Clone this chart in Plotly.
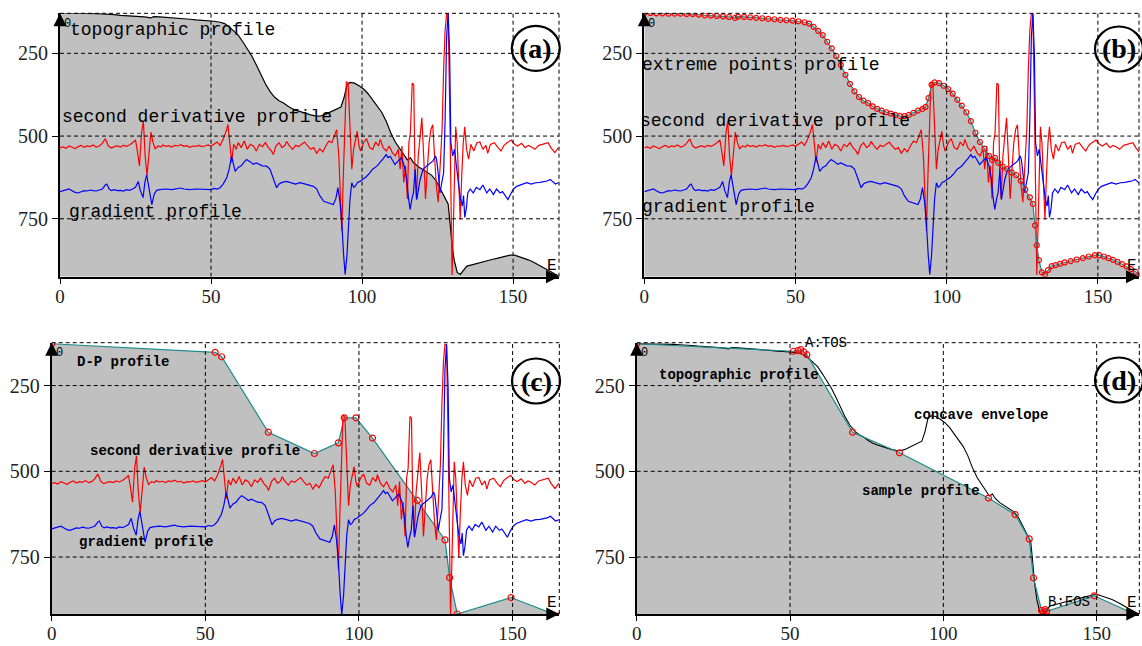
import plotly.graph_objects as go

# ---------------- data ----------------
topo_x = [0, 2, 4, 6, 8, 10, 12, 14, 16, 18, 20, 22, 24, 26, 28, 30, 31, 33, 35, 37, 39, 41, 43, 45, 47, 49,
          51, 53, 54.5, 56, 57.5, 59, 60.5, 62, 63.5, 65, 66.5, 68, 69.5, 71, 72.5, 74, 75.5, 77, 78.5, 80,
          81.5, 83, 84.5, 86, 87.5, 89, 90.5, 92, 93, 94, 95, 96, 97.5, 99, 100.5, 102, 103.5, 105, 106.5,
          108, 109.5, 111, 112.5, 114, 115, 116, 117, 118.5, 120, 121.5, 123, 124.5, 126, 127.5, 128.5,
          129.2, 129.8, 130.5, 131.5, 132.5, 133.5, 134.7, 136, 137.5, 139, 141, 143, 145, 147, 149, 150.5,
          152, 153.5, 155, 156.5, 158, 159.5, 161, 162.5, 164, 165]
topo_y = [128, 128, 129, 129, 130, 130, 130, 131, 131, 133, 135, 136, 137, 138, 140, 143, 139, 140, 141, 143,
          144, 146, 147, 149, 150, 151, 153, 156, 160, 170, 182, 195, 215, 235, 258, 285, 315, 342, 365, 382,
          393, 400, 410, 418, 423, 428, 432, 436, 439, 440, 436, 430, 423, 418, 412, 385, 345, 338, 340, 348,
          358, 372, 390, 408, 428, 455, 490, 518, 538, 560, 572, 566, 580, 592, 600, 610, 618, 635, 662, 685,
          705, 770, 830, 875, 912, 918, 905, 893, 890, 886, 882, 878, 873, 869, 864, 860, 860, 864, 869, 874,
          880, 887, 894, 902, 910, 918, 922]

d2_x = [0, 1, 2, 3, 4, 5, 6, 7, 8, 9, 10, 11, 12, 13, 14, 15, 16, 17, 18, 19, 20, 21, 22, 23, 24, 25,
        25.6, 26.3, 27, 27.6, 28.2, 28.8, 29.4, 30.1, 30.8, 31.5, 32.5, 33.5, 34, 35, 36, 37, 38, 39, 40,
        41, 42, 43, 44, 45, 46, 47, 48, 49, 50, 51, 52, 53, 54, 55, 55.6, 56.2, 56.8, 57.5, 58.3, 59, 60,
        61, 62, 63, 64, 65, 66, 67, 68, 69, 70, 70.6, 71.5, 72.5, 73.5, 74.5, 75, 76, 77, 78, 79, 80, 81,
        82, 83, 84, 85, 86, 87, 88, 89, 90, 90.8, 91.6, 92.3, 93, 93.3, 93.8, 94.4, 94.8, 95.4, 96, 96.6,
        97.2, 98, 98.4, 99, 99.5, 100.5, 101.5, 102.5, 103.5, 104.5, 105.5, 106, 107, 108, 109, 110, 111,
        112, 112.6, 113.2, 113.8, 114.4, 115, 115.5, 116, 116.6, 117.1, 117.5, 118, 118.6, 119.2, 119.8,
        120.4, 121, 121.6, 122.2, 122.8, 123.4, 124, 124.6, 125.2, 125.8, 126.5, 127, 127.5, 128, 128.5,
        129, 129.4, 129.8, 130.2, 130.6, 131, 131.5, 132, 132.5, 133, 133.5, 134, 134.6, 135.3, 136, 137,
        138, 139, 140, 141, 141.6, 142.5, 143.8, 145, 146, 147, 148, 149.4, 150.5, 151.5, 152.8, 154, 155,
        156, 157.2, 158.5, 160, 161.6, 162.5, 163.8, 165]
d2_y = [535, 533, 537, 530, 534, 538, 532, 528, 534, 530, 532, 527, 533, 530, 522, 508, 530, 536, 532, 530,
        533, 528, 531, 527, 520, 512, 545, 590, 490, 455, 560, 620, 560, 488, 520, 538, 530, 533, 527, 531,
        529, 533, 528, 530, 526, 531, 529, 534, 530, 531, 528, 532, 530, 527, 531, 525, 518, 528, 510, 485,
        465, 520, 580, 525, 540, 520, 535, 515, 540, 525, 530, 545, 525, 532, 520, 535, 545, 556, 530, 520,
        535, 528, 516, 530, 540, 528, 532, 525, 518, 530, 540, 535, 552, 538, 548, 530, 515, 520, 500, 481,
        560, 700, 787, 620, 400, 336, 340, 480, 600, 540, 500, 486, 530, 545, 520, 508, 535, 540, 518, 530,
        510, 535, 545, 530, 550, 560, 540, 600, 530, 640, 590, 690, 520, 490, 340, 345, 600, 690, 560, 500,
        445, 560, 690, 600, 520, 480, 466, 560, 650, 700, 600, 480, 300, 180, 130, 130, 400, 700, 920, 780,
        560, 472, 520, 650, 752, 620, 520, 472, 540, 570, 525, 545, 520, 518, 540, 528, 552, 525, 520, 535,
        545, 528, 520, 512, 525, 530, 522, 535, 528, 532, 540, 528, 525, 520, 535, 550, 535]

grad_x = [0, 1, 2, 3, 4, 5, 6, 7, 8, 9, 10, 11, 12, 13, 14, 15, 15.5, 16.3, 17, 18, 19, 20, 21, 22, 23, 24,
          25, 25.9, 26.6, 27.5, 28.1, 28.7, 29.4, 30.4, 31.2, 32, 33, 35, 37, 39, 40, 41, 43, 45, 47, 49, 50,
          51, 52, 53, 54, 55.2, 56, 56.8, 57.4, 58, 59, 60, 61, 61.8, 63, 64, 65, 66, 67, 68.4, 69.5, 70.5,
          71.7, 72.5, 73.5, 75, 76.5, 78, 79.5, 81, 82.5, 83.9, 85, 86, 87.3, 88.5, 89.5, 90.5, 91.3, 92,
          92.7, 93.3, 93.9, 94.4, 95, 95.5, 96, 96.6, 97.2, 97.7, 98.5, 99.3, 100.3, 101.5, 102.5, 103.5,
          104.9, 106, 107, 108, 108.6, 109.3, 110.2, 110.9, 112, 113, 114, 114.8, 115.4, 115.9, 116.5, 117,
          117.6, 118.1, 118.7, 119.2, 120.2, 121.4, 122.5, 123.5, 124.3, 124.7, 125.3, 125.8, 126.4, 127,
          127.5, 128, 128.5, 129, 129.4, 130, 130.6, 131.3, 132, 132.6, 133.2, 133.6, 134, 134.5, 135, 135.8,
          136.8, 137.8, 139, 140, 141.3, 142.3, 143.5, 144.5, 145.7, 146.5, 147.3, 148.3, 149.2, 150.2,
          151.2, 152.5, 153.5, 154.5, 156, 157.5, 159, 160.5, 161.5, 162.3, 163.2, 164, 165]
grad_y = [668, 665, 662, 660, 665, 670, 672, 668, 665, 666, 663, 665, 666, 663, 660, 648, 645, 660, 665, 662,
          665, 664, 666, 662, 664, 660, 655, 637, 665, 686, 640, 617, 650, 707, 675, 664, 662, 660, 662, 660,
          657, 660, 662, 660, 661, 660, 662, 658, 660, 656, 645, 626, 600, 561, 590, 607, 595, 590, 578, 571,
          578, 585, 581, 586, 590, 591, 600, 625, 656, 645, 640, 637, 642, 645, 641, 645, 650, 652, 660, 680,
          697, 700, 703, 707, 690, 656, 700, 763, 860, 918, 860, 763, 690, 641, 655, 652, 640, 637, 630, 622,
          612, 600, 591, 580, 568, 556, 565, 561, 575, 586, 575, 566, 590, 632, 690, 722, 690, 672, 600, 692,
          660, 632, 600, 591, 585, 575, 560, 571, 620, 672, 640, 611, 450, 200, 130, 250, 520, 560, 540, 600,
          650, 690, 712, 680, 746, 720, 672, 660, 672, 655, 662, 648, 672, 660, 677, 660, 672, 668, 680, 692,
          675, 660, 652, 648, 645, 641, 645, 641, 640, 638, 635, 631, 640, 645, 641]

# Douglas-Peucker simplified profile (panel c)
dp_x = [0, 53.2, 55.3, 70.5, 85.5, 93.3, 95.2, 99, 104.4, 119, 128, 129.5, 132, 149.5, 165]
dp_y = [128, 153, 166, 386, 448, 417, 344, 344, 403, 585, 700, 810, 916, 868, 922]

# sample profile (panel d)
sample_x = [0, 51.1, 52.6, 53.5, 54.5, 55.5, 70.4, 85.7, 114.7, 123.4, 128, 129.4, 132, 132.6, 133.2,
            133.7, 149.2, 164]
sample_y = [128, 150, 148, 145, 152, 160, 386, 446, 578, 626, 697, 811, 905, 912, 903, 908, 863, 923]

x_ticks = [0, 50, 100, 150]
y_ticks = [250, 500, 750]

# ---------------- styling ----------------
W, H = 1142, 646
GRAY = "#c0c0c0"
TEAL = "#1a8c8c"
RED = "#ff0000"
BLUE = "#0000ff"
MONO = "Liberation Mono"
SERIF = "Liberation Serif"
DASH = "4px,3px"

# panel geometry in pixels: (x0, x1, y_top, y_bottom, xmax, ytop_val, ybot_val)
panels = {
    "a": (60.0, 559.0, 13.3, 276.7, 165.2, 129, 925),
    "b": (644.3, 1139.0, 13.3, 276.7, 163.6, 129, 925),
    "c": (51.7, 559.3, 342.7, 614.0, 165.2, 125, 916),
    "d": (636.7, 1139.3, 342.7, 614.0, 163.9, 125, 916),
}
keys = ["a", "b", "c", "d"]

fig = go.Figure()
layout = dict(width=W, height=H, margin=dict(l=0, r=0, t=0, b=0, autoexpand=False),
              paper_bgcolor="white", plot_bgcolor="white", showlegend=False)
shapes = []
annotations = []

for i, k in enumerate(keys):
    x0, x1, yt, yb, xmax, ytv, ybv = panels[k]
    sfx = "" if i == 0 else str(i + 1)
    layout["xaxis" + sfx] = dict(
        domain=[x0 / W, x1 / W], range=[0, xmax], anchor="y" + sfx, automargin=False,
        tickvals=x_ticks, ticks="outside", ticklen=5, tickwidth=1, tickcolor="black",
        ticklabelstandoff=-4,
        showline=True, linecolor="black", linewidth=2, showgrid=False, zeroline=False,
        tickfont=dict(family=SERIF, size=19, color="#222"), layer="above traces")
    layout["yaxis" + sfx] = dict(
        domain=[1 - yb / H, 1 - yt / H], range=[ybv, ytv], anchor="x" + sfx, automargin=False,
        tickvals=y_ticks, ticks="outside", ticklen=6, tickwidth=1, tickcolor="black",
        showline=True, linecolor="black", linewidth=2, showgrid=False, zeroline=False,
        tickfont=dict(family=SERIF, size=20, color="#222"), layer="above traces")
    xr, yr = "x" + sfx, "y" + sfx
    # dashed grid drawn on top of the fill
    for xv in x_ticks[1:]:
        shapes.append(dict(type="line", xref=xr, yref=yr + " domain", x0=xv, x1=xv, y0=0, y1=1,
                           line=dict(color="black", width=1, dash=DASH), layer="above"))
    shapes.append(dict(type="line", xref=xr + " domain", yref=yr + " domain", x0=1, x1=1, y0=0, y1=1,
                       line=dict(color="black", width=1, dash=DASH), layer="above"))
    for yv in y_ticks:
        shapes.append(dict(type="line", xref=xr + " domain", yref=yr, x0=0, x1=1, y0=yv, y1=yv,
                           line=dict(color="black", width=1, dash=DASH), layer="above"))
    shapes.append(dict(type="line", xref=xr + " domain", yref=yr + " domain", x0=0, x1=1, y0=1, y1=1,
                       line=dict(color="black", width=1, dash=DASH), layer="above"))
    # axis arrows
    annotations.append(dict(xref=xr + " domain", yref=yr + " domain", x=0, y=1, ax=0, ay=10,
                            axref="pixel", ayref="pixel", text="", showarrow=True, arrowhead=2,
                            arrowsize=1.3, arrowwidth=2, arrowcolor="black"))
    annotations.append(dict(xref=xr + " domain", yref=yr + " domain", x=1, y=0, ax=-10, ay=0,
                            text="", showarrow=True, arrowhead=2,
                            arrowsize=1.3, arrowwidth=2, arrowcolor="black"))
    annotations.append(dict(xref=xr + " domain", yref=yr + " domain", x=0.004, y=0.995, text="0",
                            showarrow=False, xanchor="left", yanchor="top",
                            font=dict(family=MONO, size=12, color="black")))
    annotations.append(dict(xref=xr + " domain", yref=yr + " domain", x=1.0, y=0.0, text="E",
                            showarrow=False, xanchor="right", yanchor="bottom",
                            font=dict(family=MONO, size=16, color="black")))
    # panel letter in a circle
    cx = {"a": 535.8, "b": 1119.0, "c": 536.0, "d": 1119.0}[k]
    cy = {"a": 48.3, "b": 49.0, "c": 381.0, "d": 380.0}[k]
    shapes.append(dict(type="circle", xref="paper", yref="paper",
                       x0=(cx - 24) / W, x1=(cx + 24) / W, y0=1 - (cy + 22.5) / H, y1=1 - (cy - 22.5) / H,
                       line=dict(color="black", width=2.2), layer="above"))
    annotations.append(dict(xref="paper", yref="paper", x=cx / W, y=1 - cy / H, text="<b>(%s)</b>" % k,
                            showarrow=False, xanchor="center", yanchor="middle",
                            font=dict(family=SERIF, size=28, color="black")))


def fill_under(xs, ys, xr, yr, ybot):
    return go.Scatter(x=list(xs) + [xs[-1], xs[0]], y=list(ys) + [ybot, ybot], xaxis=xr, yaxis=yr,
                      fill="toself", fillcolor=GRAY, mode="none", hoverinfo="skip")


def sig_traces(xr, yr):
    return [go.Scatter(x=d2_x, y=d2_y, xaxis=xr, yaxis=yr, mode="lines", line=dict(color=RED, width=1.2)),
            go.Scatter(x=grad_x, y=grad_y, xaxis=xr, yaxis=yr, mode="lines", line=dict(color=BLUE, width=1.2))]


# (a)
fig.add_trace(fill_under(topo_x, topo_y, "x", "y", panels["a"][6]))
fig.add_trace(go.Scatter(x=topo_x, y=topo_y, xaxis="x", yaxis="y", mode="lines",
                         line=dict(color="black", width=1.2)))
for t in sig_traces("x", "y"):
    fig.add_trace(t)

# (b)
fig.add_trace(fill_under(topo_x, topo_y, "x2", "y2", panels["b"][6]))
for t in sig_traces("x2", "y2"):
    fig.add_trace(t)
fig.add_trace(go.Scatter(x=topo_x, y=topo_y, xaxis="x2", yaxis="y2", mode="lines+markers",
                         line=dict(color=TEAL, width=1.2),
                         marker=dict(symbol="circle-open", size=5, color=RED, line=dict(width=1.2))))

# (c)
fig.add_trace(fill_under(dp_x, dp_y, "x3", "y3", panels["c"][6]))
fig.add_trace(go.Scatter(x=dp_x, y=dp_y, xaxis="x3", yaxis="y3", mode="lines+markers",
                         line=dict(color=TEAL, width=1.2),
                         marker=dict(symbol="circle-open", size=6, color=RED, line=dict(width=1.2))))
for t in sig_traces("x3", "y3"):
    fig.add_trace(t)

# (d)
fig.add_trace(fill_under(sample_x, sample_y, "x4", "y4", panels["d"][6]))
fig.add_trace(go.Scatter(x=topo_x, y=topo_y, xaxis="x4", yaxis="y4", mode="lines",
                         line=dict(color="black", width=1.1)))
fig.add_trace(go.Scatter(x=sample_x, y=sample_y, xaxis="x4", yaxis="y4", mode="lines+markers",
                         line=dict(color=TEAL, width=1.2),
                         marker=dict(symbol="circle-open", size=6, color=RED, line=dict(width=1.2))))

# text labels: (axis, axis, x, y, x pixel shift, text, font)
big = dict(family=MONO, size=18, color="black")
small = dict(family=MONO, size=14, color="black", weight="bold")
plain = dict(family=MONO, size=14, color="black")
labels = [
    ("x", "y", 2.6, 180, 0, "topographic profile", big),
    ("x", "y", 0, 443, 0, "second derivative profile", big),
    ("x", "y", 2.3, 729, 0, "gradient profile", big),
    ("x2", "y2", 0, 285, -4, "extreme points profile", big),
    ("x2", "y2", 0, 455, -6, "second derivative profile", big),
    ("x2", "y2", 0, 714, -4, "gradient profile", big),
    ("x3", "y3", 7.6, 180, 0, "D-P profile", small),
    ("x3", "y3", 11.8, 440, 0, "second derivative profile", small),
    ("x3", "y3", 8.2, 705, 0, "gradient profile", small),
    ("x4", "y4", 6.6, 218, 0, "topographic profile", small),
    ("x4", "y4", 89.8, 335, 0, "concave envelope", small),
    ("x4", "y4", 72.8, 556, 0, "sample profile", small),
    ("x4", "y4", 54.3, 127, 0, "A:TOS", plain),
    ("x4", "y4", 133.5, 880, 0, "B:FOS", plain),
]
for xr, yr, xv, yv, sh, txt, f in labels:
    annotations.append(dict(xref=xr, yref=yr, x=xv, y=yv, xshift=sh, text=txt, showarrow=False,
                            xanchor="left", yanchor="middle", font=f))

layout["shapes"] = shapes
layout["annotations"] = annotations
fig.update_layout(**layout)

fig.write_html("out.html", config={"displayModeBar": False},
               post_script="document.body.style.margin='0px';document.body.style.overflow='hidden';")
